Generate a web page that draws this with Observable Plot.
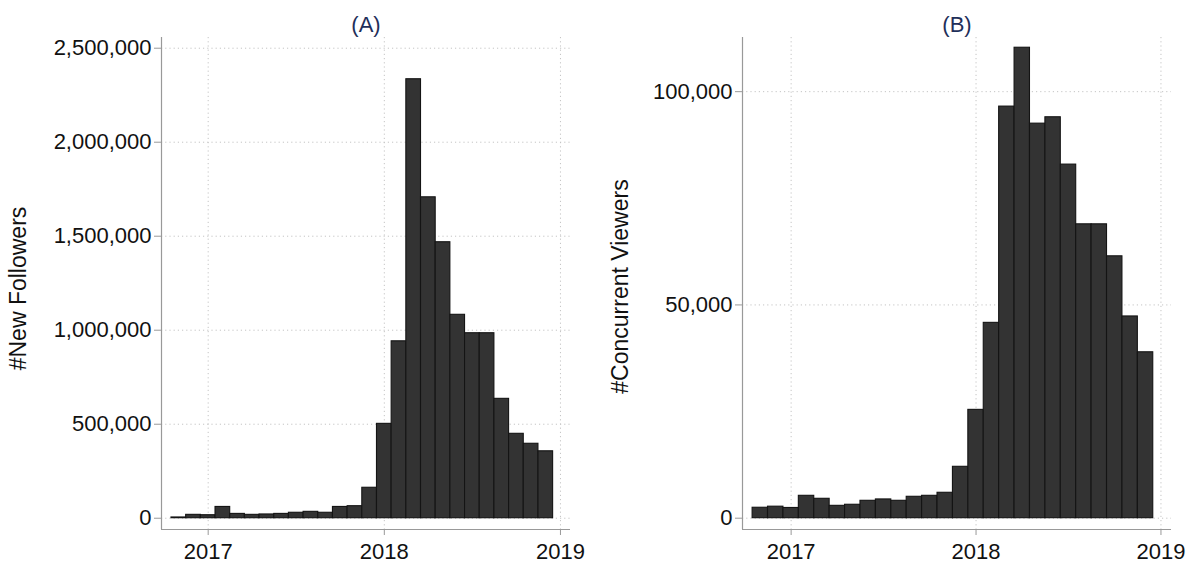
<!DOCTYPE html>
<html>
<head>
<meta charset="utf-8">
<script src="https://cdn.jsdelivr.net/npm/d3@7"></script>
<script src="https://cdn.jsdelivr.net/npm/@observablehq/plot@0.6"></script>
<style>
  html, body { margin: 0; padding: 0; background: #fff; }
  #wrap { display: flex; flex-direction: row; width: 1196px; height: 563px; }
</style>
</head>
<body>
<div id="wrap"></div>
<script>
// Monthly categories (bars centred on the start of each month)
const months = [
  "2016-11","2016-12","2017-01","2017-02","2017-03","2017-04","2017-05","2017-06",
  "2017-07","2017-08","2017-09","2017-10","2017-11","2017-12","2018-01","2018-02",
  "2018-03","2018-04","2018-05","2018-06","2018-07","2018-08","2018-09","2018-10",
  "2018-11","2018-12"
];
// Panel A: new followers per month
const newFollowers = [
  4000, 18000, 16000, 60000, 23000, 18000, 20000, 23000,
  29000, 34000, 29000, 60000, 64000, 162000, 502000, 941000,
  2335000, 1707000, 1468000, 1082000, 984000, 984000, 635000, 449000,
  396000, 356000
];
// Panel B: concurrent viewers per month
const concurrentViewers = [
  2450, 2700, 2400, 5250, 4550, 2900, 3150, 4080,
  4400, 4080, 5020, 5250, 5960, 12050, 25400, 45800,
  96500, 110300, 92500, 94000, 82900, 68900, 68900, 61400,
  47300, 38900
];
const xTicks = [2017, 2018, 2019];
const yTicksA = [0, 500000, 1000000, 1500000, 2000000, 2500000];
const yTicksB = [0, 50000, 100000];
const titleA = "(A)", titleB = "(B)";
const labelA = "#New Followers", labelB = "#Concurrent Viewers";

function toYear(m) {
  const [y, mo] = m.split("-").map(Number);
  return y + (mo - 1) / 12;
}
function rows(values) {
  return months.map((m, i) => {
    const t = toYear(m);
    return {x1: t - 1 / 24, x2: t + 1 / 24, v: values[i]};
  });
}

const FONT = "'Liberation Sans', Arial, Helvetica, sans-serif";
const AXIS = "#999";
const GRID = "#c4c4c4";
const TITLE = "#1f2f5a";

function panel({values, yTicks, xDomain, yDomain, marginLeft, marginRight, title, label, labelDx, labelDy}) {
  return Plot.plot({
    width: 598,
    height: 563,
    marginLeft,
    marginRight,
    marginTop: 37,
    marginBottom: 34,
    style: {fontFamily: FONT, fontSize: "22px", color: "#111", background: "#fff", overflow: "visible"},
    x: {domain: xDomain},
    y: {domain: yDomain},
    marks: [
      Plot.gridY(yTicks, {stroke: GRID, strokeOpacity: 1, strokeDasharray: "1.2,3"}),
      Plot.gridX(xTicks, {stroke: GRID, strokeOpacity: 1, strokeDasharray: "1.2,3"}),
      Plot.rectY(rows(values), {x1: "x1", x2: "x2", y1: 0, y2: "v", fill: "#333333", stroke: "#141414", strokeWidth: 1.1}),
      Plot.ruleX([xDomain[0]], {stroke: AXIS, strokeWidth: 1.2}),
      Plot.ruleY([yDomain[0]], {stroke: AXIS, strokeWidth: 1.2}),
      Plot.axisY(yTicks, {tickSize: 7, tickPadding: 3, stroke: AXIS, tickFormat: d3.format(","), label: null, fill: "#111", fontSize: 22}),
      Plot.axisX(xTicks, {tickSize: 6, tickPadding: 8, stroke: AXIS, tickFormat: d => String(d), label: null, fill: "#111", fontSize: 22}),
      Plot.text([title], {frameAnchor: "top", lineAnchor: "middle", textAnchor: "middle", dy: -13, fill: TITLE, fontSize: 22}),
      Plot.text([label], {frameAnchor: "left", textAnchor: "middle", lineAnchor: "middle", dx: labelDx, dy: labelDy, rotate: -90, fill: "#111", fontSize: 23})
    ]
  });
}

const wrap = document.getElementById("wrap");
wrap.appendChild(panel({
  values: newFollowers, yTicks: yTicksA,
  xDomain: [2016.735, 2019.057], yDomain: [-60000, 2557000],
  marginLeft: 161, marginRight: 28, title: titleA, label: labelA, labelDx: -143, labelDy: 5
}));
wrap.appendChild(panel({
  values: concurrentViewers, yTicks: yTicksB,
  xDomain: [2016.737, 2019.057], yDomain: [-2650, 112700],
  marginLeft: 144, marginRight: 25, title: titleB, label: labelB, labelDx: -122, labelDy: 3
}));
</script>
</body>
</html>
